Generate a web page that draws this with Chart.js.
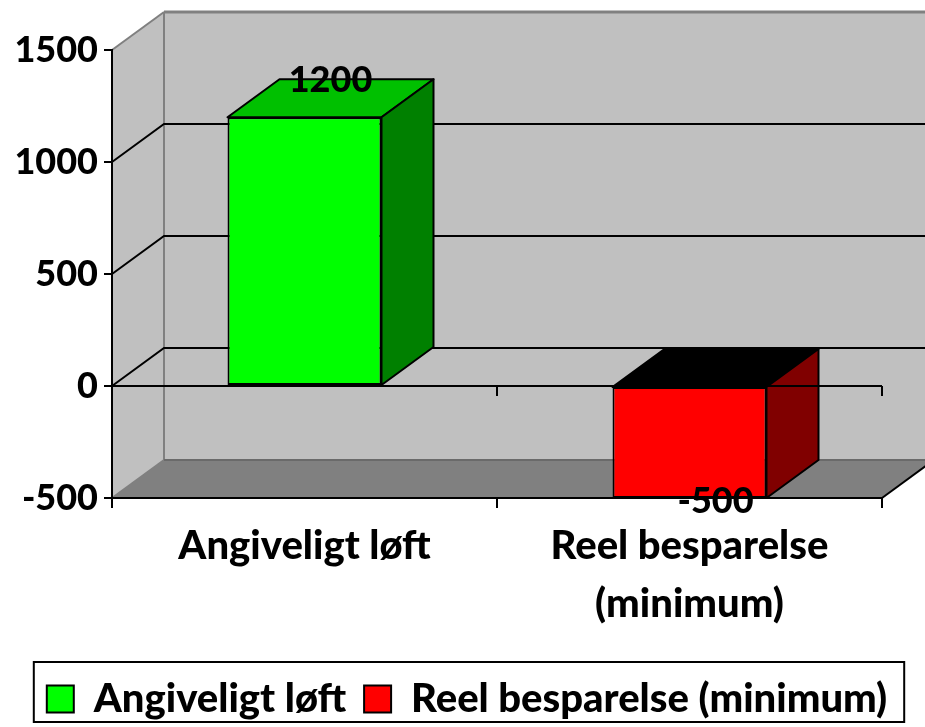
<!DOCTYPE html>
<html>
<head>
<meta charset="utf-8">
<script src="https://cdn.jsdelivr.net/npm/chart.js@4.4.0/dist/chart.umd.min.js"></script>
<style>
    html, body { margin: 0; padding: 0; background: #fff; }
    #wrap { width: 925px; height: 727px; }
</style>
</head>
<body>
<div id="wrap"><canvas id="chart"></canvas></div>
<script>
// Data
const categories = ['Angiveligt løft', 'Reel besparelse (minimum)'];
const axisLabels = [['Angiveligt løft'], ['Reel besparelse', '(minimum)']];
const values = [1200, -500];
const yTicks = [-500, 0, 500, 1000, 1500];

// Colours per bar: front / side / top
const frontColors = ['#00FF00', '#FF0000'];
const sideColors = ['#008000', '#800000'];
const topColors = ['#00C000', '#000000'];

// 3D depth offset
const DX = 52, DY = -38;
const NUM_FONT = { family: 'Lato', size: 36, weight: '900' };
const TXT_FONT = { family: 'Lato', size: 40, weight: '900' };
const numFontStr = '900 36px Lato';

function poly(ctx, pts, fill, stroke) {
    ctx.beginPath();
    ctx.moveTo(pts[0][0], pts[0][1]);
    for (let i = 1; i < pts.length; i++) ctx.lineTo(pts[i][0], pts[i][1]);
    ctx.closePath();
    if (fill) { ctx.fillStyle = fill; ctx.fill(); }
    if (stroke) { ctx.strokeStyle = stroke; ctx.stroke(); }
}

function line(ctx, x1, y1, x2, y2, color, w) {
    ctx.beginPath();
    ctx.moveTo(x1, y1);
    ctx.lineTo(x2, y2);
    ctx.strokeStyle = color;
    ctx.lineWidth = w;
    ctx.stroke();
}

const walls = {
    id: 'walls',
    afterLayout(chart) {
        // nudge legend to where Excel put it
        const lg = chart.legend;
        if (!lg) return;
        lg.left += 26; lg.right += 26;
        lg.top += 6; lg.bottom += 6;
    },
    beforeDraw(chart) {
        const { ctx, chartArea: a, scales: { y } } = chart;
        const L = a.left, R = a.right, T = a.top, B = a.bottom;
        ctx.save();
        // back wall + side wall
        poly(ctx, [[L + DX, T + DY], [R + DX, T + DY], [R + DX, B + DY], [L + DX, B + DY]], '#C0C0C0');
        poly(ctx, [[L, T], [L + DX, T + DY], [L + DX, B + DY], [L, B]], '#C0C0C0');
        // floor
        poly(ctx, [[L, B], [L + DX, B + DY], [R + DX, B + DY], [R, B]], '#808080');
        // wall edges
        line(ctx, L, T, L + DX, T + DY, '#808080', 2);
        line(ctx, L + DX, T + DY, R + DX, T + DY, '#808080', 3);
        line(ctx, L + DX, T + DY, L + DX, B + DY, '#808080', 2);
        line(ctx, L, B, L + DX, B + DY, '#808080', 2);
        line(ctx, L + DX, B + DY, R + DX, B + DY, '#6a6a6a', 2);
        // gridlines on side and back wall
        y.ticks.forEach(t => {
            if (t.value === y.min || t.value === y.max) return;
            const py = y.getPixelForValue(t.value);
            ctx.beginPath();
            ctx.moveTo(L, py);
            ctx.lineTo(L + DX, py + DY);
            ctx.lineTo(R + DX, py + DY);
            ctx.strokeStyle = '#000';
            ctx.lineWidth = 2;
            ctx.stroke();
        });
        // right edge of floor
        line(ctx, R, B, R + DX, B + DY, '#000', 2);
        ctx.restore();
    },
    beforeDatasetsDraw(chart) {
        const { ctx } = chart;
        const meta = chart.getDatasetMeta(0);
        ctx.save();
        ctx.lineWidth = 2;
        ctx.lineJoin = 'round';
        meta.data.forEach((bar, i) => {
            const { x, y, base, width } = bar.getProps(['x', 'y', 'base', 'width'], true);
            const l = x - width / 2, r = x + width / 2;
            const top = Math.min(y, base), bot = Math.max(y, base);
            poly(ctx, [[l, top], [l + DX, top + DY], [r + DX, top + DY], [r, top]], topColors[i], '#000');
            poly(ctx, [[r, top], [r + DX, top + DY], [r + DX, bot + DY], [r, bot]], sideColors[i], '#000');
        });
        ctx.restore();
    },
    afterDatasetsDraw(chart) {
        const { ctx, chartArea: a, scales: { x, y } } = chart;
        ctx.save();
        // front zero line with ticks
        const y0 = y.getPixelForValue(0);
        line(ctx, a.left, y0, a.right, y0, '#000', 2);
        for (let i = 1; i <= categories.length; i++) {
            const px = x.getPixelForValue(i - 0.5);
            line(ctx, px, y0, px, y0 + 10, '#000', 2);
        }
        // value labels
        ctx.font = numFontStr;
        ctx.fillStyle = '#000';
        ctx.textAlign = 'center';
        ctx.textBaseline = 'alphabetic';
        chart.getDatasetMeta(0).data.forEach((bar, i) => {
            const { x: bx, y: by } = bar.getProps(['x', 'y'], true);
            const midY = by + DY / 2;
            const ty = values[i] >= 0 ? midY - 6 : midY + 34;
            ctx.fillText(String(values[i]), bx + DX / 2, ty);
        });
        ctx.restore();
    },
    afterDraw(chart) {
        const lg = chart.legend;
        if (!lg || !lg.legendHitBoxes.length) return;
        const hb = lg.legendHitBoxes;
        const left = Math.min(...hb.map(h => h.left)) - 13;
        const right = Math.max(...hb.map(h => h.left + h.width)) + 17;
        const top = hb[0].top - 17;
        const bottom = hb[0].top + hb[0].height + 3;
        const { ctx } = chart;
        ctx.save();
        ctx.strokeStyle = '#000';
        ctx.lineWidth = 2;
        ctx.strokeRect(left, top, right - left, bottom - top);
        ctx.restore();
    }
};

new Chart(document.getElementById('chart'), {
    type: 'bar',
    data: {
        labels: axisLabels,
        datasets: [{
            data: values,
            backgroundColor: frontColors,
            borderColor: '#000',
            borderWidth: 2,
            borderSkipped: false,
            barPercentage: 0.4,
            categoryPercentage: 1
        }]
    },
    options: {
        responsive: true,
        maintainAspectRatio: false,
        animation: false,
        layout: { padding: { left: 0, top: 50, right: 43, bottom: 4 } },
        plugins: {
            tooltip: { enabled: false },
            legend: {
                position: 'bottom',
                labels: {
                    font: TXT_FONT,
                    color: '#000',
                    boxWidth: 27,
                    boxHeight: 27,
                    padding: 18,
                    generateLabels: () => categories.map((c, i) => ({
                        text: c,
                        fillStyle: frontColors[i],
                        strokeStyle: '#000',
                        lineWidth: 2,
                        fontColor: '#000',
                        index: i
                    }))
                }
            }
        },
        scales: {
            x: {
                afterFit: s => { s.height = 157; },
                grid: { drawOnChartArea: false, drawTicks: true, tickLength: 10, color: '#000', lineWidth: 2, offset: true },
                border: { display: true, color: '#000', width: 2 },
                ticks: { font: { ...TXT_FONT, lineHeight: 1.45 }, color: '#000', padding: 9, maxRotation: 0, autoSkip: false }
            },
            y: {
                min: yTicks[0],
                max: yTicks[yTicks.length - 1],
                afterBuildTicks: s => { s.ticks = yTicks.map(v => ({ value: v })); },
                afterFit: s => { s.width = 112; },
                grid: { drawOnChartArea: false, drawTicks: true, tickLength: 8, color: '#000', lineWidth: 2 },
                border: { display: true, color: '#000', width: 2 },
                ticks: { font: NUM_FONT, color: '#000', padding: 6, callback: v => String(v) }
            }
        }
    },
    plugins: [walls]
});
</script>
</body>
</html>
